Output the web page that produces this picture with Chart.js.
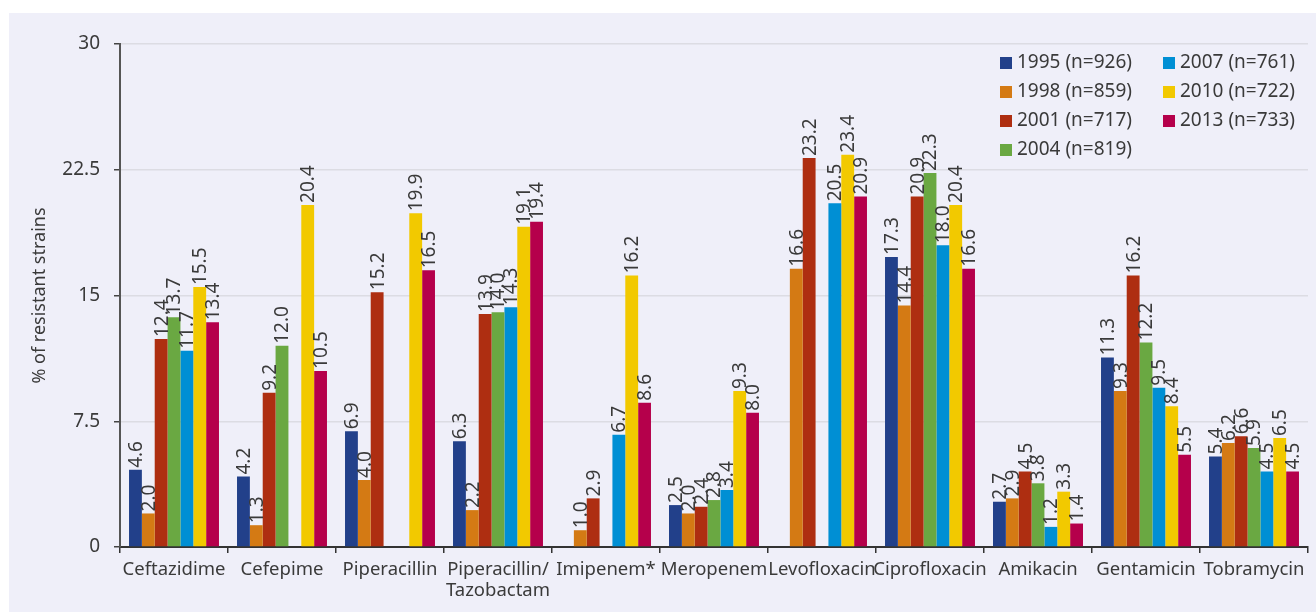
<!DOCTYPE html>
<html>
<head>
<meta charset="utf-8">
<script src="https://cdn.jsdelivr.net/npm/chart.js@4"></script>
<style>
body{margin:0;background:#fff;font-family:"Noto Sans",sans-serif;}
#box{position:absolute;left:9px;top:13px;width:1307px;height:599px;background:#efeff9;}
#legend{position:absolute;left:991px;top:37px;width:320px;color:#3a3a3a;font-size:19px;}
.item{position:absolute;white-space:nowrap;line-height:22px;}
.item span{display:inline-block;width:12px;height:12px;margin-right:5px;vertical-align:-1px;}
</style>
</head>
<body>
<div id="box">
<canvas id="chart" width="1307" height="599"></canvas>
<div id="legend"></div>
</div>
<script>
//DATA
const drugs=['Ceftazidime','Cefepime','Piperacillin',['Piperacillin/','Tazobactam'],'Imipenem*','Meropenem','Levofloxacin','Ciprofloxacin','Amikacin','Gentamicin','Tobramycin'];
const years=['1995 (n=926)','1998 (n=859)','2001 (n=717)','2004 (n=819)','2007 (n=761)','2010 (n=722)','2013 (n=733)'];
const colors=['#22408a','#d47a14','#ae2e11','#6aa842','#008fd4','#f2c900','#b5004b'];
const y1995=[4.6,4.2,6.9,6.3,null,2.5,null,17.3,2.7,11.3,5.4];
const y1998=[2.0,1.3,4.0,2.2,1.0,2.0,16.6,14.4,2.9,9.3,6.2];
const y2001=[12.4,9.2,15.2,13.9,2.9,2.4,23.2,20.9,4.5,16.2,6.6];
const y2004=[13.7,12.0,null,14.0,null,2.8,null,22.3,3.8,12.2,5.9];
const y2007=[11.7,null,null,14.3,6.7,3.4,20.5,18.0,1.2,9.5,4.5];
const y2010=[15.5,20.4,19.9,19.1,16.2,9.3,23.4,20.4,3.3,8.4,6.5];
const y2013=[13.4,10.5,16.5,19.4,8.6,8.0,20.9,16.6,1.4,5.5,4.5];
const series=[y1995,y1998,y2001,y2004,y2007,y2010,y2013];
const yTicks=[0,7.5,15,22.5,30];

const FONT='"Noto Sans", sans-serif';
const TXT='#3a3a3a';

//VALUE LABELS ON TOP OF BARS
const barLabels={
    id:'barLabels',
    afterDatasetsDraw(chart){
        const c=chart.ctx;
        c.save();
        c.font='19px '+FONT;
        c.fillStyle=TXT;
        c.textAlign='left';
        c.textBaseline='middle';
        chart.data.datasets.forEach((ds,i)=>{
            chart.getDatasetMeta(i).data.forEach((bar,j)=>{
                const v=ds.data[j];
                if(v==null) return;
                c.save();
                c.translate(bar.x,bar.y-2);
                c.rotate(-Math.PI/2);
                c.fillText(v.toFixed(1),0,1);
                c.restore();
            });
        });
        c.restore();
    }
};

const ctx=document.getElementById('chart').getContext('2d');
new Chart(ctx,{
    type:'bar',
    data:{
        labels:drugs,
        datasets:series.map((s,i)=>({
            label:years[i],
            data:s,
            backgroundColor:colors[i],
            borderWidth:0,
            categoryPercentage:0.833,
            barPercentage:1.0
        }))
    },
    options:{
        responsive:false,
        animation:false,
        devicePixelRatio:1,
        layout:{padding:{top:31,right:8,left:0,bottom:0}},
        plugins:{legend:{display:false},tooltip:{enabled:false}},
        scales:{
            x:{
                afterFit:s=>{s.height=65;},
                grid:{offset:true,drawOnChartArea:false,drawTicks:true,tickLength:6,color:'#333',lineWidth:1.5},
                border:{color:'#333',width:2},
                ticks:{color:TXT,font:{family:FONT,size:18.5,lineHeight:1.15},padding:6,maxRotation:0,autoSkip:false}
            },
            y:{
                min:0,max:30,
                afterFit:s=>{s.width=111;},
                afterBuildTicks:s=>{s.ticks=yTicks.map(v=>({value:v}));},
                grid:{color:'#dcdce3',lineWidth:1.5,tickLength:6,tickColor:'#444'},
                border:{color:'#555',width:2},
                ticks:{color:TXT,font:{family:FONT,size:19},padding:14},
                title:{display:true,text:'% of resistant strains',color:TXT,font:{family:FONT,size:18},padding:{top:20}}
            }
        }
    },
    plugins:[barLabels]
});

//LEGEND (two columns, filled column by column)
const legend=document.getElementById('legend');
years.forEach((y,i)=>{
    const col=i<4?0:1;
    const row=i<4?i:i-4;
    const d=document.createElement('div');
    d.className='item';
    d.style.left=(col*163)+'px';
    d.style.top=(row*29)+'px';
    d.innerHTML='<span style="background:'+colors[i]+'"></span>'+y;
    legend.appendChild(d);
});
</script>
</body>
</html>
